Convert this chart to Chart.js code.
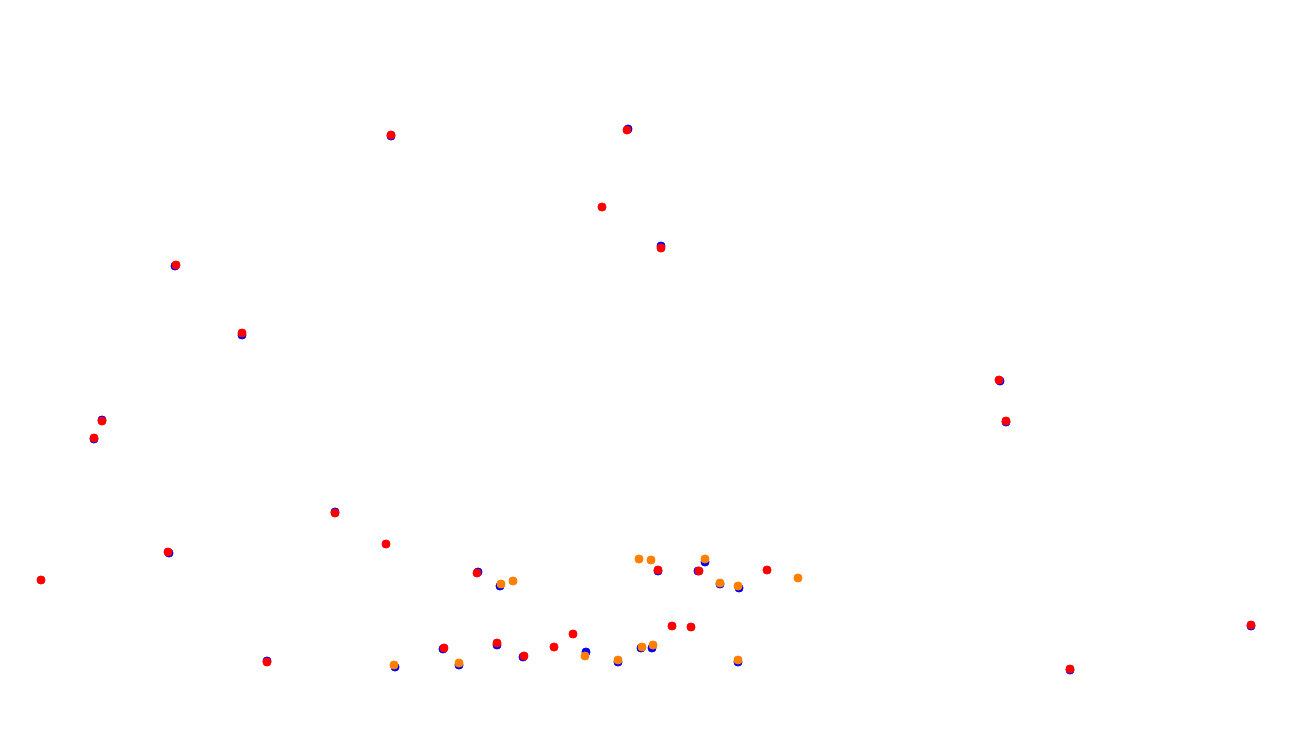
<!DOCTYPE html>
<html>
<head>
<meta charset="utf-8">
<script src="https://cdn.jsdelivr.net/npm/chart.js@4"></script>
<style>
  body { margin: 0; background: #fff; }
</style>
</head>
<body>
<canvas id="chart" width="1290" height="734"></canvas>
<script>
// values (x to the right, y downward)
var red_x = [391, 627, 602, 661, 176, 242, 102, 94, 999, 1006, 335, 386, 168, 41, 267, 1251, 1070,
    477, 658, 699, 767, 672, 691, 573, 554, 497, 444, 524];
var red_y = [135, 130, 207, 248, 265, 333, 421, 438, 380, 421, 513, 544, 552, 580, 662, 625, 669,
    573, 570, 571, 570, 626, 627, 634, 647, 643, 648, 656];

var orange_x = [501, 513, 639, 651, 705, 720, 738, 798, 585, 394, 459, 618, 642, 653, 738];
var orange_y = [584, 581, 559, 560, 559, 583, 586, 578, 656, 665, 663, 660, 647, 645, 660];

var blue_x = [391, 628, 661, 175, 242, 102, 94, 1000, 1006, 335, 169, 267, 1251, 1070,
    478, 500, 658, 705, 698, 720, 739, 497, 443, 523, 586, 395, 459, 618, 641, 652, 738];
var blue_y = [136, 129, 246, 266, 335, 420, 439, 381, 422, 512, 553, 661, 626, 670,
    572, 586, 571, 562, 571, 584, 588, 645, 649, 657, 652, 667, 665, 662, 648, 648, 662];

function points(xs, ys) {
    var out = [];
    for (let i = 0; i < xs.length; i++) {
        out.push({x: xs[i], y: ys[i]});
    }
    return out;
}

const data = {
    datasets: [{
        label: 'red',
        data: points(red_x, red_y),
        backgroundColor: 'rgb(255, 0, 0)',
        borderColor: 'rgb(255, 0, 0)',
    }, {
        label: 'orange',
        data: points(orange_x, orange_y),
        backgroundColor: 'rgb(255, 128, 0)',
        borderColor: 'rgb(255, 128, 0)',
    }, {
        label: 'blue',
        data: points(blue_x, blue_y),
        backgroundColor: 'rgb(0, 0, 255)',
        borderColor: 'rgb(0, 0, 255)',
    }]
};

const config = {
    type: 'scatter',
    data: data,
    options: {
        responsive: false,
        animation: false,
        layout: { padding: 0, autoPadding: false },
        elements: {
            point: { radius: 4, borderWidth: 1 }
        },
        scales: {
            x: { display: false, min: 0, max: 1290 },
            y: { display: false, min: 0, max: 734, reverse: true }
        },
        plugins: {
            legend: { display: false },
            tooltip: { enabled: false }
        }
    }
};

const myChart = new Chart(document.getElementById('chart'), config);
</script>
</body>
</html>
